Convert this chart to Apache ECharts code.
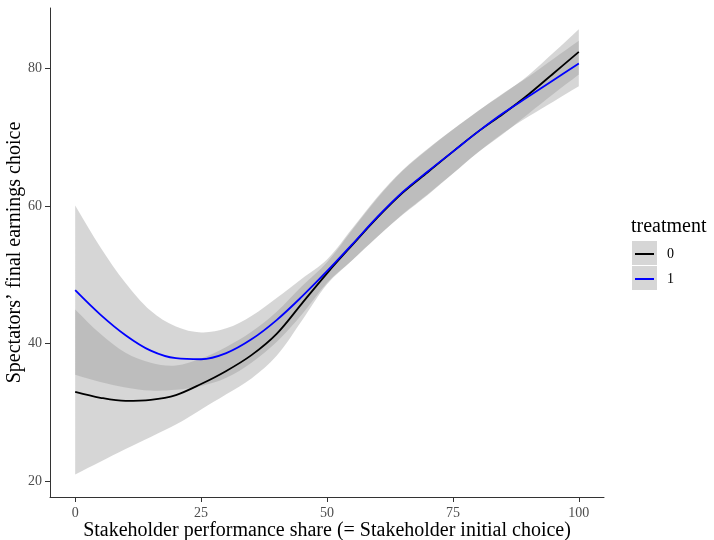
<!DOCTYPE html>
<html><head><meta charset="utf-8">
<script src="https://cdn.jsdelivr.net/npm/echarts@6/dist/echarts.min.js"></script>
<style>html,body{margin:0;padding:0;background:#fff}#c{width:714px;height:540px}</style>
</head><body><div id="c"></div>
<script>
// x positions (Stakeholder performance share)
const xs = [0,5,10,15,20,25,30,35,40,45,50,55,60,65,70,75,80,85,90,95,100];
// treatment 0 smooth fit and confidence band
const fit0   = [32.95,32.1,31.65,31.8,32.5,34.1,36.0,38.3,41.4,45.8,50.2,54.3,58.3,61.9,64.9,67.9,70.8,73.4,76.2,79.3,82.4];
const lower0 = [20.95,22.8,24.65,26.4,28.2,30.4,32.6,34.9,38.2,43.3,48.6,52.1,55.5,58.7,61.6,64.7,67.8,70.5,73.4,76.3,79.1];
const upper0 = [44.95,41.4,38.65,37.2,36.8,37.8,39.5,41.7,44.6,48.3,51.8,56.5,61.1,65.1,68.2,71.1,73.8,76.3,79.0,82.3,85.7];
// treatment 1 smooth fit and confidence band
const fit1   = [47.75,44.2,41.2,38.95,37.85,37.7,38.6,40.6,43.4,46.8,50.5,54.4,58.4,62.0,65.0,67.9,70.8,73.5,75.9,78.3,80.7];
const lower1 = [35.45,34.4,33.6,33.15,33.25,33.8,35.0,37.2,40.2,44.2,48.8,52.1,55.5,58.8,61.7,64.7,67.8,70.6,73.0,75.2,77.4];
const upper1 = [60.05,54.0,48.8,44.75,42.45,41.6,42.2,44.0,46.6,49.4,52.2,56.7,61.3,65.2,68.3,71.1,73.8,76.4,78.8,81.4,84.0];
// axis ticks
const xTicks = [0,25,50,75,100];
const yTicks = [20,40,60,80];
const groups = ['0','1'];

const FONT = 'Liberation Serif';
const SM = 0.35;
const bandFill = 'rgba(153,153,153,0.4)';
const pair = (ys) => xs.map((x,i)=>[x, ys[i]]);

function bandSeries(lo, hi, key){
  return {
    name:'band'+key, type:'custom', silent:true, z:2,
    data: xs.map((x,i)=>[x, lo[i], hi[i]]),
    encode:{x:0, y:[1,2]},
    renderItem: function(params, api){
      if (params.dataIndex !== 0) return null;
      const top = xs.map((x,i)=>api.coord([x, hi[i]]));
      const bot = xs.map((x,i)=>api.coord([x, lo[i]])).reverse();
      const pts = [top[0], ...top, top[top.length-1], bot[0], ...bot, bot[bot.length-1]];
      return {type:'polygon', shape:{points:pts, smooth:SM}, style:{fill:bandFill, stroke:null}};
    }
  };
}

const chart = echarts.init(document.getElementById('c'), null, {renderer:'canvas'});
chart.setOption({
  animation:false,
  backgroundColor:'#fff',
  textStyle:{fontFamily:FONT},
  title:{text:'treatment', left:626, top:212, textStyle:{fontFamily:FONT, fontSize:20, fontWeight:'normal', color:'#000'}},
  grid:{left:50, right:110, top:8, bottom:43, containLabel:false, outerBoundsMode:'none'},
  xAxis:{type:'value', min:-5, max:105,
    name:'Stakeholder performance share (= Stakeholder initial choice)',
    nameLocation:'middle', nameGap:24, nameMoveOverlap:false,
    nameTextStyle:{fontFamily:FONT, fontSize:20, color:'#000'},
    axisLine:{show:true, onZero:false, lineStyle:{color:'#333', width:1}},
    axisTick:{show:true, length:5, customValues:xTicks, lineStyle:{color:'#333'}},
    axisLabel:{customValues:xTicks, margin:9, fontFamily:FONT, fontSize:14, color:'#4d4d4d'},
    splitLine:{show:false}},
  yAxis:{type:'value', min:17.67, max:88.78,
    name:'Spectators\u2019 final earnings choice',
    nameLocation:'middle', nameGap:25, nameMoveOverlap:false,
    nameTextStyle:{fontFamily:FONT, fontSize:20, color:'#000'},
    axisLine:{show:true, onZero:false, lineStyle:{color:'#333', width:1}},
    axisTick:{show:true, length:5, customValues:yTicks, lineStyle:{color:'#333'}},
    axisLabel:{customValues:yTicks, margin:8, fontFamily:FONT, fontSize:14, color:'#4d4d4d'},
    splitLine:{show:false}},
  legend:{data:groups, orient:'vertical', left:630, top:242, icon:'rect',
    itemWidth:19, itemHeight:2, itemGap:11,
    textStyle:{fontFamily:FONT, fontSize:14, color:'#000', lineHeight:14, padding:[0,0,0,8]}},
  graphic:[
    {type:'rect', left:632, top:241, shape:{width:25, height:24}, style:{fill:'#d6d6d6'}, z:-1},
    {type:'rect', left:632, top:266, shape:{width:25, height:24}, style:{fill:'#d6d6d6'}, z:-1}
  ],
  series:[
    bandSeries(lower0, upper0, '0'),
    {name:'0', type:'line', data:pair(fit0), symbol:'none', smooth:SM, color:'#000',
     lineStyle:{color:'#000', width:1.8}, z:2},
    bandSeries(lower1, upper1, '1'),
    {name:'1', type:'line', data:pair(fit1), symbol:'none', smooth:SM, color:'#0000ff',
     lineStyle:{color:'#0000ff', width:1.8}, z:2}
  ]
});
</script></body></html>
